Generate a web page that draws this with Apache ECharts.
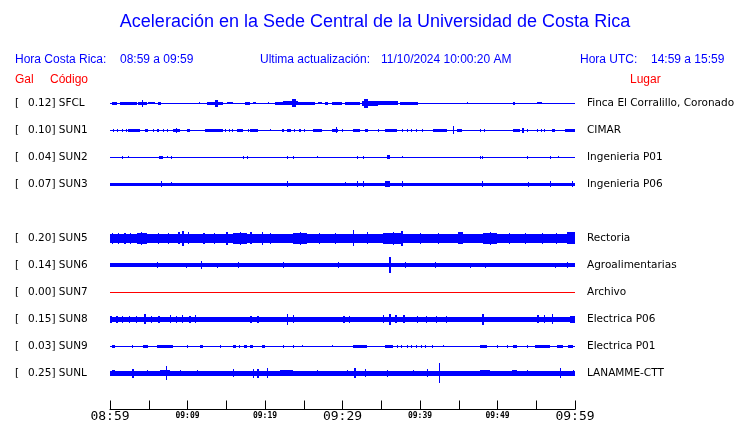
<!DOCTYPE html>
<html><head><meta charset="utf-8">
<script src="https://cdn.jsdelivr.net/npm/echarts@6/dist/echarts.min.js"></script>
<style>html,body{margin:0;padding:0;background:#fff}#c{width:740px;height:423px}</style>
</head><body><div id="c"></div>
<script>
// ---------- data ----------
const timeLabels = ['08:59','09:09','09:19','09:29','09:39','09:49','09:59']; // every 10 min from 0
const stationCodes = ['SFCL','SUN1','SUN2','SUN3','','SUN5','SUN6','SUN7','SUN8','SUN9','SUNL'];
const galValues = ['0.12','0.10','0.04','0.07','','0.20','0.14','0.00','0.15','0.03','0.25'];
const places = ['Finca El Corralillo, Coronado','CIMAR','Ingenieria P01','Ingenieria P06','','Rectoria','Agroalimentarias','Archivo','Electrica P06','Electrica P01','LANAMME-CTT'];
// background (noise) half-amplitude of each trace, in trace units (27 units = row spacing)
const baseAmp = [0.5,0.5,0.5,1.5,null,4.5,2,0.5,2.5,0.5,2.5];
// bursts: [startMinute, endMinute, halfAmplitude]
const sfclBursts = [[0.2,0.9,1.5],[1.3,3.5,1.5],[3.6,4.8,1.5],[4.1,4.3,3.5],[4.9,5.8,1],[6.2,6.6,1.5],[11.5,11.6,1],[12.5,14.6,1.5],[13.5,13.9,3.5],[15.1,15.9,1],[17.4,18.1,1.5],[18.5,18.9,1],[20.4,20.5,1],[21.3,22.3,1.5],[22.3,24.3,2],[23.5,24.0,4],[24.3,26.5,1.5],[26.8,27.4,1],[27.7,28.1,1.5],[28.6,29.9,1.5],[30.3,32.3,1.5],[32.5,34.6,2.5],[32.8,33.3,4.5],[34.6,37.2,2],[37.4,39.7,1.5],[46.1,46.2,1],[52.0,52.3,1.5],[55.1,55.7,1]];
const sun1Bursts = [[0.4,0.5,1.5],[0.9,1.0,1.5],[1.5,1.6,1.5],[2.0,2.1,1.5],[2.3,3.9,1.5],[4.5,4.9,1.5],[5.5,5.6,1.5],[6.1,6.3,1.5],[6.8,6.9,1.5],[7.3,7.4,1.5],[8.1,9.0,1.5],[8.5,8.7,2.5],[9.9,10.3,1.5],[12.3,14.6,1.5],[14.8,14.9,1.5],[15.3,15.4,1.5],[15.8,15.9,1.5],[16.4,17.2,1.5],[17.8,17.9,1.5],[18.1,19.1,1.5],[20.6,20.7,1],[22.2,22.5,1.5],[22.9,23.3,1.5],[23.7,23.9,1.5],[24.4,24.6,1.5],[25.0,25.2,1.5],[26.2,27.4,1.5],[28.6,29.4,1.5],[29.2,29.3,3],[29.9,30.0,1.5],[31.4,32.3,1.5],[32.9,33.3,1.5],[34.6,34.7,1.5],[35.5,37.0,1.5],[37.7,37.8,1.5],[38.3,38.4,1.5],[38.9,39.0,1.5],[39.5,39.6,1.5],[40.3,40.4,1.5],[41.7,43.5,1.5],[44.2,44.4,4],[44.8,45.4,1.5],[47.7,47.8,1.5],[48.3,48.4,1.5],[52.0,52.9,1.5],[53.2,53.4,2.5],[53.8,53.9,1.5],[55.1,55.2,1.5],[55.6,55.7,1.5],[56.0,56.1,1.5],[57.0,57.4,1.5],[58.7,60,1.5]];
const sun2Bursts = [[1.6,1.7,1.5],[2.3,2.4,1],[6.3,6.8,1.5],[7.4,7.5,1],[7.9,8.0,1.5],[17.2,17.3,1.5],[17.7,17.8,1.5],[22.8,22.9,1.5],[23.6,23.7,1.5],[26.7,26.8,1],[31.9,32.0,1.5],[32.6,32.7,1.5],[35.7,36.1,2],[37.7,37.8,1],[47.7,47.8,1.5],[48.0,48.1,1.5],[53.8,53.9,1.5],[56.8,56.9,1.5],[57.8,57.9,1]];
const sun3Bursts = [[6.6,6.7,3],[7.9,8.0,2],[22.8,22.9,3],[30.3,30.4,2],[31.9,32.0,3],[32.6,32.7,3],[35.5,36.1,3],[37.7,37.8,3],[48.0,48.1,3],[53.9,54.0,2.5],[56.8,56.9,3],[59.6,59.8,3]];
const sun5Bursts = [[0.2,0.4,5.5],[1.0,1.1,5.5],[1.8,2.0,5.5],[2.6,2.7,5.5],[3.5,4.8,5.5],[4.0,4.1,6.5],[6.2,6.3,5.5],[7.5,7.6,5.5],[9.3,9.5,7.5],[8.8,9.0,6],[10.1,10.2,6],[12.0,12.2,5.5],[13.4,13.5,5.5],[15.0,15.2,6.5],[15.9,17.7,5.5],[16.8,16.9,6.5],[18.1,18.3,6],[19.6,19.8,6.5],[20.6,20.7,5.5],[23.6,25.4,5.5],[24.5,24.6,6.5],[27.0,27.1,5.5],[29.0,29.1,5.5],[31.3,31.5,8],[33.1,33.3,6],[35.2,37.8,5.5],[36.5,36.6,6.5],[37.6,37.8,7.5],[40.0,40.1,5.5],[42.3,42.4,5.5],[44.9,45.5,6],[48.1,49.9,5.5],[49.0,49.1,6.5],[51.5,51.6,5.5],[53.5,53.6,5.5],[55.8,55.9,5.5],[57.5,57.6,5.5],[59.0,60,6]];
const sun6Bursts = [[6.0,6.1,3],[9.8,9.9,2.5],[11.8,11.9,4],[13.8,13.9,2.5],[16.5,16.6,3],[22.3,22.4,3],[29.4,29.5,3],[36.0,36.2,8],[38.1,38.2,3],[41.9,42.0,3],[46.5,46.6,2.5],[48.4,48.5,2.5],[57.4,57.5,2.5],[59.0,59.1,3]];
const sun7Bursts = [];
const sun8Bursts = [[0,0.3,3.5],[0.8,1.0,3.5],[1.6,1.7,3.5],[2.4,2.6,3.5],[3.3,3.4,3.5],[4.4,4.6,5],[5.3,5.4,3.5],[6.2,6.4,3.5],[7.7,7.8,4],[8.5,8.7,3.5],[9.3,9.4,4],[10.2,10.4,3.5],[11.0,11.1,4],[18.1,18.3,3.5],[19.0,19.2,3.5],[22.8,22.9,5.5],[23.6,23.7,4],[30.1,30.3,3.5],[30.8,31.0,3.5],[35.2,35.4,4],[36.0,36.2,5.5],[36.8,37.0,4],[37.8,38.0,4],[39.6,39.8,3.5],[40.8,40.9,3.5],[42.0,42.1,3.5],[43.4,43.5,3.5],[48.0,48.2,5.5],[55.1,55.3,4],[56.0,56.1,4],[57.0,57.1,5],[59.4,60,3.5]];
const sun9Bursts = [[0.2,0.6,1.5],[2.8,2.9,1.5],[4.3,4.9,1.5],[6.1,8.1,1.5],[9.9,10.0,1.5],[11.6,12.0,1.5],[14.2,14.3,1.5],[15.9,16.2,1.5],[16.6,16.8,1.5],[17.3,17.7,1.5],[18.1,18.5,1.5],[19.6,20.0,1.5],[22.3,22.4,1.5],[23.6,23.7,1.5],[24.8,24.9,1],[28.6,28.7,1],[31.4,33.2,1.5],[35.5,36.5,1.5],[37.0,37.1,1.5],[37.6,37.7,1.5],[38.3,38.4,1.5],[38.9,39.0,1.5],[39.5,39.6,1.5],[40.1,40.2,1.5],[40.7,40.8,1.5],[41.6,41.7,1.5],[43.0,43.1,1],[47.7,48.6,1.5],[49.9,50.0,1.5],[51.2,51.3,1.5],[52.0,52.5,1.5],[53.8,53.9,1.5],[54.8,56.8,1.5],[57.7,58.5,1.5],[59.1,59.7,1.5]];
const sunlBursts = [[0.3,0.6,3],[2.9,3.1,4.5],[4.8,4.9,3],[6.5,7.7,3],[7.2,7.4,7],[9.0,9.1,3],[11.2,11.3,3],[15.9,16.0,4],[18.4,18.6,4.5],[19.0,19.2,4.5],[20.2,20.4,5],[21.9,23.6,3],[26.7,26.8,3],[30.6,30.7,3],[31.5,31.7,5],[32.9,33.0,4],[35.7,35.8,3.5],[39.1,39.2,3],[40.9,41.0,4],[42.4,42.6,10],[47.7,49.0,3],[51.9,52.5,3],[53.8,53.9,3],[58.0,58.2,5],[59.7,59.8,3]];
const burstsByRow = [sfclBursts,sun1Bursts,sun2Bursts,sun3Bursts,null,sun5Bursts,sun6Bursts,sun7Bursts,sun8Bursts,sun9Bursts,sunlBursts];

// ---------- chart ----------
const ROW_UNITS = 27;
const BLUE = '#0000ff', RED = '#ff0000';
const chart = echarts.init(document.getElementById('c'));

function renderTrace(params, api){
  const t0 = api.value(0), t1 = api.value(1), a = api.value(2), r = api.value(3);
  const p0 = api.coord([t0, r]), p1 = api.coord([t1, r]);
  const band = api.size([0, 1])[1];
  const h = a * band / ROW_UNITS;
  const x0 = Math.round(p0[0]);
  const w = Math.max(1, Math.round(p1[0]) - x0);
  const y = Math.round(p0[1] - h);
  const hh = Math.max(1, Math.round(2 * h));
  return {type:'rect', shape:{x:x0, y:y, width:w, height:hh}, style:{fill: api.visual('color')}};
}

const series = [];
stationCodes.forEach((code, i) => {
  if (!code) return;
  const data = [[0, 60, baseAmp[i], i]].concat(burstsByRow[i].map(b => [b[0], b[1], b[2], i]));
  series.push({
    type:'custom', name: code, xAxisIndex:0, yAxisIndex:0,
    color: galValues[i] === '0.00' ? RED : BLUE,
    encode:{x:[0,1], y:3}, dimensions:['t0','t1','amp','row'],
    renderItem: renderTrace, data: data, silent:true, animation:false
  });
});

const hdrFont = '12px "Liberation Sans", Arial, sans-serif';
function txt(x, y, s, color, font, align){
  return {type:'text', x:x, y:y, silent:true,
    style:{text:s, fill:color, font:font, textAlign:align||'left', textVerticalAlign:'middle'}};
}
const LBL = 10.5;

const option = {
  animation:false,
  backgroundColor:'#ffffff',
  grid:{left:110, width:465, top:89.5, height:297, containLabel:false, outerBoundsMode:'none'},
  xAxis:{
    type:'value', min:0, max:60, interval:5, offset:23,
    axisLine:{show:true, lineStyle:{color:'#000', width:1}},
    axisTick:{show:true, inside:true, length:9, lineStyle:{color:'#000'}},
    splitLine:{show:false},
    axisLabel:{
      margin:1, showMinLabel:true, showMaxLabel:true, color:'#000',
      fontFamily:'DejaVu Sans Mono', hideOverlap:false,
      formatter: v => {
        if (v % 10 !== 0) return '';
        const s = timeLabels[v / 10];
        return v % 30 === 0 ? '{big|' + s + '}' : '{small|' + s + '}';
      },
      rich:{
        big:{fontFamily:'DejaVu Sans Mono', fontSize:13, color:'#000'},
        small:{fontFamily:'DejaVu Sans Mono', fontSize:8, fontWeight:'bold', color:'#000', padding:[1,0,0,0]}
      }
    }
  },
  yAxis:[{
    type:'category', data:stationCodes, inverse:true, position:'left',
    axisLine:{show:false}, axisTick:{show:false}, splitLine:{show:false},
    axisLabel:{
      align:'left', margin:95, interval:0, color:'#000',
      fontFamily:'DejaVu Sans', fontSize:LBL,
      formatter:(v, idx) => v ? '{b|[}{v|' + galValues[idx] + '] ' + v + '}' : '',
      rich:{
        b:{width:13, fontFamily:'DejaVu Sans', fontSize:LBL, color:'#000'},
        v:{fontFamily:'DejaVu Sans', fontSize:LBL, color:'#000'}
      }
    }
  },{
    type:'category', data:places, inverse:true, position:'right',
    axisLine:{show:false}, axisTick:{show:false}, splitLine:{show:false},
    axisLabel:{align:'left', margin:12, interval:0, color:'#000', fontFamily:'DejaVu Sans', fontSize:LBL}
  }],
  graphic:[
    txt(375, 22, 'Aceleración en la Sede Central de la Universidad de Costa Rica', BLUE, '18px "Liberation Sans", Arial, sans-serif', 'center'),
    txt(15, 60, 'Hora Costa Rica:', BLUE, hdrFont),
    txt(120, 60, '08:59 a 09:59', BLUE, hdrFont),
    txt(260, 60, 'Ultima actualización:', BLUE, hdrFont),
    txt(381, 60, '11/10/2024 10:00:20 AM', BLUE, hdrFont),
    txt(580, 60, 'Hora UTC:', BLUE, hdrFont),
    txt(651, 60, '14:59 a 15:59', BLUE, hdrFont),
    txt(15, 80, 'Gal', RED, hdrFont),
    txt(50, 80, 'Código', RED, hdrFont),
    txt(630, 80, 'Lugar', RED, hdrFont)
  ],
  series: series
};
chart.setOption(option);
</script>
</body></html>
